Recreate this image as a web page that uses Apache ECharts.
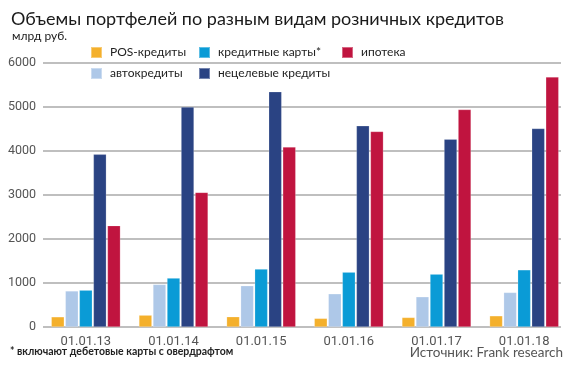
<!DOCTYPE html>
<html><head><meta charset="utf-8">
<script src="https://cdn.jsdelivr.net/npm/echarts@6/dist/echarts.min.js"></script>
<style>html,body{margin:0;padding:0;background:#fff}#c{width:570px;height:368px}</style>
</head><body><div id="c"></div>
<script>
const categories = ['01.01.13','01.01.14','01.01.15','01.01.16','01.01.17','01.01.18'];
const seriesNames = ['POS-кредиты','автокредиты','кредитные карты*','нецелевые кредиты','ипотека'];
const posCredits = [232, 270, 234, 197, 218, 255];
const autoCredits = [820, 968, 939, 756, 688, 786];
const creditCards = [838, 1113, 1318, 1247, 1202, 1300];
const untargeted = [3925, 5000, 5348, 4573, 4271, 4512];
const mortgage = [2305, 3060, 4091, 4444, 4943, 5684];
const yTicks = [0, 1000, 2000, 3000, 4000, 5000, 6000];
const colors = ['#f4b02c', '#aec8e8', '#0a9bd6', '#2a4383', '#c0143f'];
const values = [posCredits, autoCredits, creditCards, untargeted, mortgage];

const chart = echarts.init(document.getElementById('c'));
const font = 'Lato, "Noto Sans", sans-serif';
const axisFont = 'Roboto, "Noto Sans", sans-serif';
const legendPos = [
  {left: 90, top: 46}, {left: 90, top: 67}, {left: 198, top: 46}, {left: 198, top: 67}, {left: 341, top: 46}
];
chart.setOption({
  animation: false,
  textStyle: {fontFamily: font},
  title: [
    {text: 'Объемы портфелей по разным видам розничных кредитов', left: 11, top: 10, padding: 0,
     textStyle: {fontSize: 18, fontWeight: 'normal', color: '#1a1a1a', fontFamily: font}},
    {text: 'млрд руб.', left: 12, top: 30, padding: 0, textStyle: {fontSize: 12, fontWeight: 'normal', color: '#1a1a1a', fontFamily: font}},
    {text: '* включают дебетовые карты с овердрафтом', left: 10, top: 346, padding: 0,
     textStyle: {fontSize: 10.5, fontWeight: 'bold', color: '#222', fontFamily: font}},
    {text: 'Источник: Frank research', right: 7, top: 346, padding: 0,
     textStyle: {fontSize: 13.5, fontWeight: 'normal', color: '#555', fontFamily: font}}
  ],
  legend: seriesNames.map((n, i) => ({
    data: [n], left: legendPos[i].left, top: legendPos[i].top, itemWidth: 11, itemHeight: 11, itemGap: 8,
    padding: 0, icon: 'rect', textStyle: {fontSize: 12, color: '#222', fontFamily: font, padding: [0, 0, 0, 3]}, selectedMode: false
  })),
  grid: [
    {left: 42, right: 2, top: 63, bottom: 41},
    {left: 43, right: 9, top: 63, bottom: 41}
  ],
  xAxis: [
    {type: 'category', gridIndex: 0, data: categories, axisLine: {show: false}, axisTick: {show: false},
     axisLabel: {fontSize: 13, color: '#555', margin: 8, fontFamily: axisFont}},
    {type: 'category', gridIndex: 1, data: categories, show: false}
  ],
  yAxis: [
    {type: 'value', gridIndex: 0, min: 0, max: 6000, interval: 1000, show: false, splitLine: {show: false}},
    {type: 'value', gridIndex: 1, min: 0, max: 6000, interval: 1000,
     axisLine: {show: false}, axisTick: {show: false},
     axisLabel: {fontSize: 12.5, color: '#555', margin: 7, fontFamily: axisFont,
       formatter: v => yTicks.includes(v) ? String(v) : ''},
     splitLine: {lineStyle: {color: '#aaaaaa', width: 1.6}}}
  ],
  series: seriesNames.map((n, i) => ({
    name: n, type: 'bar', xAxisIndex: 0, yAxisIndex: 0, data: values[i],
    barWidth: 13, barGap: '8%',
    itemStyle: {color: colors[i], borderColor: 'rgba(255,255,255,0.35)', borderWidth: 0.6}
  }))
});
</script></body></html>
